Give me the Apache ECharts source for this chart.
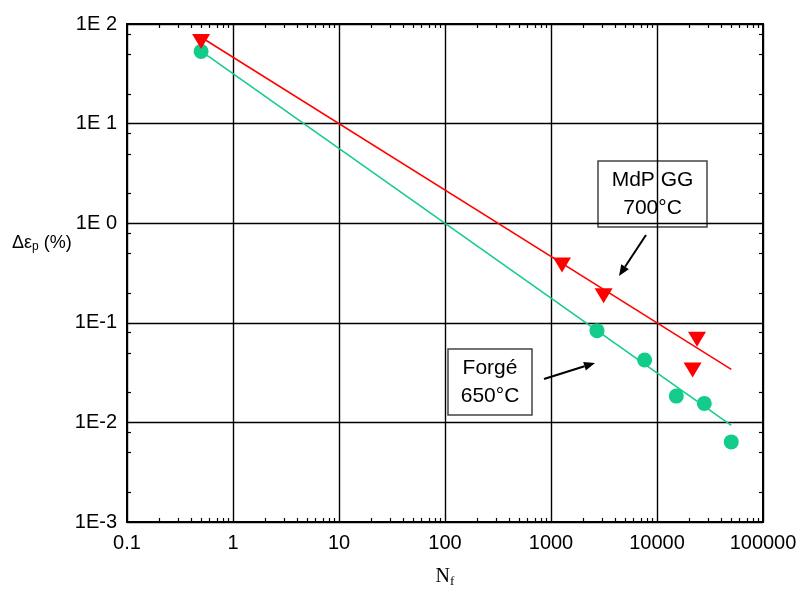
<!DOCTYPE html>
<html>
<head>
<meta charset="utf-8">
<script src="https://cdn.jsdelivr.net/npm/echarts@6/dist/echarts.min.js"></script>
<style>
html,body{margin:0;padding:0;background:#fff;}
#chart{width:810px;height:593px;}
</style>
</head>
<body>
<div id="chart"></div>
<script>
// ---- data ----
const xTickLabels = ['0.1', '1', '10', '100', '1000', '10000', '100000'];
const yTickLabels = ['1E-3', '1E-2', '1E-1', '1E 0', '1E 1', '1E 2'];

// MdP GG 700°C (red triangles)
const mdpX = [0.5, 1270, 3135, 23850, 21660];
const mdpY = [66.8, 0.381, 0.187, 0.0683, 0.0336];
// Forgé 650°C (green circles)
const forgeX = [0.5, 2715, 7640, 15210, 27930, 50200];
const forgeY = [53.1, 0.0834, 0.0423, 0.01836, 0.01552, 0.00637];
// fitted lines (end points)
const mdpFitX = [0.5, 50200];
const mdpFitY = [73.6, 0.0341];
const forgeFitX = [0.5, 50200];
const forgeFitY = [53.5, 0.00935];

// minor tick multipliers
const xMinorMult = [2, 3, 4, 5, 6, 7, 8, 9];
const yMinorMult = [2, 5, 8];
const xDecades = [0.1, 1, 10, 100, 1000, 10000];
const yDecades = [0.001, 0.01, 0.1, 1, 10];

const RED = '#FF0000';
const GREEN = '#14CC8A';

const zip = (a, b) => a.map((v, i) => [v, b[i]]);

const minorData = [];
xDecades.forEach(d => xMinorMult.forEach(m => minorData.push([d * m, 1, 0])));
yDecades.forEach(d => yMinorMult.forEach(m => minorData.push([1, d * m, 1])));

const chart = echarts.init(document.getElementById('chart'), null, {renderer: 'canvas'});

const labelFont = 'Liberation Sans, Arial, sans-serif';

function arrow(x1, y1, x2, y2) {
  const ang = Math.atan2(y2 - y1, x2 - x1);
  const L = 11, W = 4.5;
  const bx = x2 - L * Math.cos(ang), by = y2 - L * Math.sin(ang);
  const px = -Math.sin(ang) * W, py = Math.cos(ang) * W;
  return [
    {type: 'line', shape: {x1: x1, y1: y1, x2: bx, y2: by}, style: {stroke: '#000', lineWidth: 2}, z: 100},
    {type: 'polygon', shape: {points: [[x2, y2], [bx + px, by + py], [bx - px, by - py]]}, style: {fill: '#000'}, z: 100}
  ];
}

function box(x, y, w, h, lines) {
  return {
    type: 'group', x: x, y: y, z: 100,
    children: [
      {type: 'rect', shape: {x: 0, y: 0, width: w, height: h}, style: {fill: '#fff', stroke: '#444', lineWidth: 1.5}},
      {type: 'text', x: w / 2, y: h / 2, style: {text: lines.join('\n'), font: '21px ' + labelFont, fill: '#000', align: 'center', verticalAlign: 'middle', lineHeight: 28}}
    ]
  };
}

const option = {
  animation: false,
  backgroundColor: '#fff',
  grid: {left: 127, right: 47, top: 24, bottom: 71, show: true, borderColor: '#000', borderWidth: 2, backgroundColor: 'transparent'},
  xAxis: {
    type: 'log', logBase: 10, min: 0.1, max: 100000, splitNumber: 6,
    axisLine: {show: true, lineStyle: {color: '#000', width: 2}},
    axisTick: {show: false},
    splitLine: {show: true, lineStyle: {color: '#000', width: 1.4}},
    axisLabel: {
      margin: 11, color: '#000', fontSize: 20, fontFamily: labelFont,
      showMinLabel: true, showMaxLabel: true,
      formatter: v => xTickLabels[Math.round(Math.log10(v)) + 1]
    },
    name: '{n|N}{s|f}', nameLocation: 'middle', nameGap: 44,
    nameTextStyle: {
      rich: {
        n: {fontFamily: 'Liberation Serif, Times New Roman, serif', fontSize: 20, color: '#000'},
        s: {fontFamily: 'Liberation Serif, Times New Roman, serif', fontSize: 13, color: '#000', padding: [9, 0, 0, 0]}
      }
    }
  },
  yAxis: {
    type: 'log', logBase: 10, min: 0.001, max: 100, splitNumber: 5,
    axisLine: {show: true, lineStyle: {color: '#000', width: 2}},
    axisTick: {show: false},
    splitLine: {show: true, lineStyle: {color: '#000', width: 1.4}},
    axisLabel: {
      margin: 10, color: '#000', fontSize: 20, fontFamily: labelFont,
      showMinLabel: true, showMaxLabel: true,
      formatter: v => yTickLabels[Math.round(Math.log10(v)) + 3]
    }
  },
  series: [
    {
      type: 'custom', name: 'minorTicks', silent: true, clip: false, z: 5,
      data: minorData,
      encode: {x: 0, y: 1},
      renderItem: function (params, api) {
        const cs = params.coordSys;
        const kind = api.value(2);
        const len = 4;
        const st = {stroke: '#000', lineWidth: 1.2};
        if (kind === 0) {
          const p = api.coord([api.value(0), 1]);
          const x = Math.round(p[0]) + 0.5;
          return {type: 'group', children: [
            {type: 'line', shape: {x1: x, y1: cs.y + cs.height, x2: x, y2: cs.y + cs.height - len}, style: st},
            {type: 'line', shape: {x1: x, y1: cs.y, x2: x, y2: cs.y + len}, style: st}
          ]};
        } else {
          const p = api.coord([1, api.value(1)]);
          const y = Math.round(p[1]) + 0.5;
          return {type: 'group', children: [
            {type: 'line', shape: {x1: cs.x, y1: y, x2: cs.x + len, y2: y}, style: st},
            {type: 'line', shape: {x1: cs.x + cs.width, y1: y, x2: cs.x + cs.width - len, y2: y}, style: st}
          ]};
        }
      }
    },
    {
      type: 'line', name: 'Forgé fit', data: zip(forgeFitX, forgeFitY),
      showSymbol: false, symbol: 'none', lineStyle: {color: GREEN, width: 1.5}, z: 10
    },
    {
      type: 'line', name: 'MdP fit', data: zip(mdpFitX, mdpFitY),
      showSymbol: false, symbol: 'none', lineStyle: {color: RED, width: 1.5}, z: 10
    },
    {
      type: 'scatter', name: 'Forgé 650°C', data: zip(forgeX, forgeY),
      symbol: 'circle', symbolSize: 15, itemStyle: {color: GREEN, opacity: 1}, z: 20
    },
    {
      type: 'scatter', name: 'MdP GG 700°C', data: zip(mdpX, mdpY),
      symbol: 'triangle', symbolRotate: 180, symbolSize: [18, 15], itemStyle: {color: RED, opacity: 1}, z: 21
    }
  ],
  graphic: [
    {
      type: 'text', left: 12, top: 234, z: 100,
      style: {
        text: '{a|Δε}{s|p}{a| (%)}',
        rich: {
          a: {fontFamily: labelFont, fontSize: 18, color: '#000'},
          s: {fontFamily: labelFont, fontSize: 12, color: '#000', padding: [8, 0, 0, 0]}
        }
      }
    },
    box(598, 161, 109, 66, ['MdP GG', '700°C']),
    box(448, 349, 84, 66, ['Forgé', '650°C']),
    ...arrow(646, 235, 619, 276),
    ...arrow(544, 379, 595, 363)
  ]
};

chart.setOption(option);
</script>
</body>
</html>
